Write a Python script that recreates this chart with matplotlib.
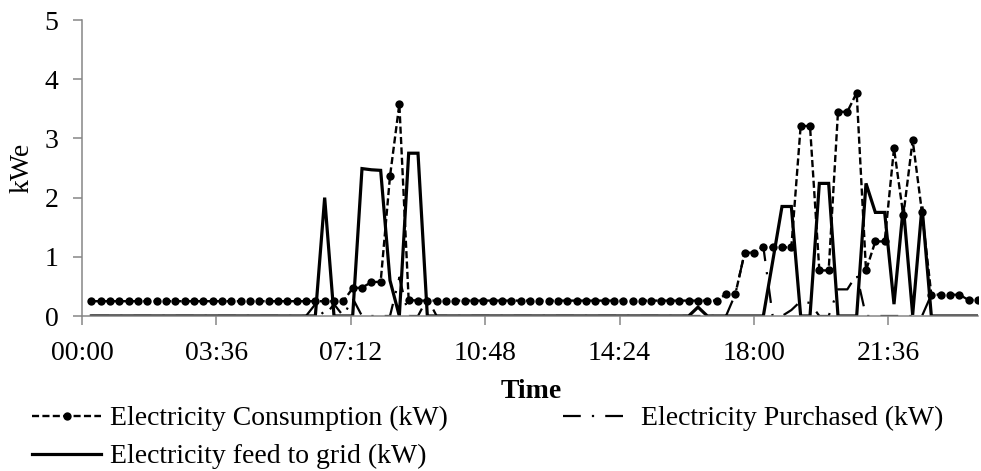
import matplotlib
matplotlib.use("Agg")
import matplotlib.pyplot as plt
import numpy as np

# 15-minute intervals, slot 1 = 00:15 ... slot 96 = 24:00
slots = list(range(1, 97))

consumption = (
    [0.25] * 28
    + [0.47, 0.48, 0.57, 0.58, 2.36, 3.58, 0.27]
    + [0.26] * 33
    + [0.37, 0.37, 1.07, 1.07, 1.17, 1.16, 1.16, 1.16, 3.21, 3.21,
       0.77, 0.77, 3.45, 3.45, 3.77, 0.77, 1.26, 1.26, 2.83, 1.70,
       2.97, 1.75, 0.36, 0.36, 0.36, 0.36, 0.27, 0.27]
)

purchased = (
    [0.0] * 24
    + [0.20, 0.0, 0.20, 0.0, 0.30, 0.0, 0.0, 0.0, 0.0, 0.65, 0.0, 0.0, 0.30]
    + [0.0] * 32
    + [0.37, 1.07, 1.07, 1.17, 0.0, 0.0, 0.10, 0.25, 0.22, 0.0,
       0.0, 0.45, 0.45, 0.70, 0.0, 0.0, 0.0, 0.0, 0.0, 0.0, 0.0,
       0.36, 0.36, 0.36, 0.36, 0.27, 0.27]
)

feed_to_grid = (
    [0.0] * 25
    + [2.00, 0.0, 0.0, 0.0, 2.49, 2.47, 2.46, 0.60, 0.0, 2.75, 2.75]
    + [0.0] * 29
    + [0.15]
    + [0.0] * 7
    + [0.92, 1.85, 1.85, 0.0, 0.0, 2.24, 2.24, 0.0, 0.0, 0.0,
       2.24, 1.75, 1.75, 0.20, 1.85, 0.02, 1.85]
    + [0.0] * 6
)

tick_hours = [0, 3.6, 7.2, 10.8, 14.4, 18.0, 21.6]
tick_labels = ["00:00", "03:36", "07:12", "10:48", "14:24", "18:00", "21:36"]
y_ticks = [0, 1, 2, 3, 4, 5]

labels = ["Electricity Consumption (kW)",
          "Electricity Purchased (kW)",
          "Electricity feed to grid (kW)"]

hours = np.array(slots) * 0.25

W, H = 981, 471
plt.rcParams["font.family"] = ["Liberation Serif", "DejaVu Serif"]
FS = 20

fig = plt.figure(figsize=(W / 100, H / 100), dpi=100)
ax = fig.add_axes([82 / W, (H - 316) / H, (978 - 82) / W, (316 - 20) / H])

ln_cons, = ax.plot(hours, consumption, color="black", lw=1.7,
                   dashes=(3.0, 1.4), marker="o", markersize=6,
                   markeredgewidth=0, label=labels[0])
ln_purch, = ax.plot(hours, purchased, color="black", lw=1.6,
                    dashes=(8, 5, 1, 5), label=labels[1])
ln_feed, = ax.plot(hours, feed_to_grid, color="black", lw=2.3,
                   solid_joinstyle="miter", label=labels[2])

ax.set_xlim(0, 24)
ax.set_ylim(0, 5)
ax.set_xticks(tick_hours)
ax.set_xticklabels(tick_labels)
ax.set_yticks(y_ticks)

for side in ("top", "right"):
    ax.spines[side].set_visible(False)
for side in ("left", "bottom"):
    ax.spines[side].set_color("#868686")
    ax.spines[side].set_linewidth(1.1)

ax.tick_params(axis="both", direction="out", length=6.5, width=1.1,
               color="#868686", labelsize=FS, labelcolor="black")
ax.tick_params(axis="x", pad=11.5)
ax.tick_params(axis="y", pad=10.5)

fig.text(22 / W, 1 - 168 / H, "kWe", rotation=90, ha="center",
         va="center", fontsize=FS)
fig.text(531 / W, 1 - 398 / H, "Time", ha="center", va="baseline",
         fontsize=FS, fontweight="bold")

fig.legend(handles=[ln_cons, ln_feed, ln_purch],
           labels=[labels[0], labels[2], labels[1]],
           ncol=2, loc="upper left",
           bbox_to_anchor=(32 / W, 1 - 406 / H),
           bbox_transform=fig.transFigure, frameon=False,
           borderpad=0, borderaxespad=0, handlelength=2.5,
           handletextpad=0.3, columnspacing=4.15, labelspacing=0.45,
           fontsize=FS)

fig.savefig("out.png", dpi=100)
